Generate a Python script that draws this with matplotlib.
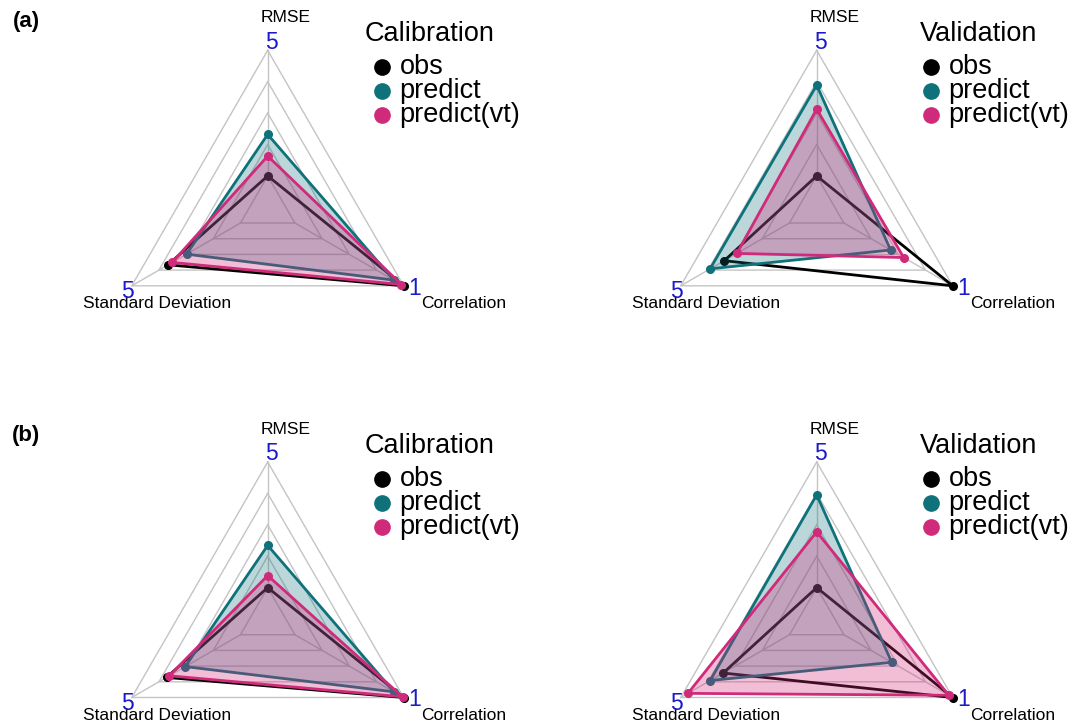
import numpy as np
import matplotlib
matplotlib.use("Agg")
import matplotlib.pyplot as plt

plt.rcParams["font.family"] = ["Liberation Sans", "DejaVu Sans"]

metrics = ["RMSE", "Standard Deviation", "Correlation"]
axis_max = [5, 5, 1]
axis_min = [0, 0, 0]
series_names = ["obs", "predict", "predict(vt)"]

# panel (a)
a_cal_obs = [0.0, 3.33, 1.00]
a_cal_pred = [1.65, 2.48, 0.91]
a_cal_vt = [0.79, 3.14, 0.98]
a_val_obs = [0.0, 3.00, 1.00]
a_val_pred = [3.61, 3.65, 0.43]
a_val_vt = [2.66, 2.42, 0.55]

# panel (b)
b_cal_obs = [0.0, 3.40, 1.00]
b_cal_pred = [1.68, 2.54, 0.91]
b_cal_vt = [0.48, 3.27, 0.99]
b_val_obs = [0.0, 3.05, 1.00]
b_val_pred = [3.69, 3.65, 0.44]
b_val_vt = [2.22, 4.67, 0.965]

line_cols = ["black", "#0f717a", "#d02a7a"]
fill_cols = [None, (0.06, 0.44, 0.48, 0.28), (0.82, 0.16, 0.48, 0.30)]
blue = "#1a1acc"
grid_col = "#c4c4c4"

W, H = 1075, 727
R = 157.0
angles = np.deg2rad([90, 210, 330])
seg = 4


def to_radius(vals):
    vals = np.asarray(vals, dtype=float)
    lo = np.asarray(axis_min, dtype=float)
    hi = np.asarray(axis_max, dtype=float)
    return (1 + seg * (vals - lo) / (hi - lo)) / (seg + 1)


def radar(fig, cx, cy, rect, title, data):
    x0, y0, x1, y1 = rect  # pixel box, y measured from top
    ax = fig.add_axes([x0 / W, 1 - y1 / H, (x1 - x0) / W, (y1 - y0) / H])
    ax.set_xlim((x0 - cx) / R, (x1 - cx) / R)
    ax.set_ylim((cy - y1) / R, (cy - y0) / R)
    ax.axis("off")

    # grid triangles and spokes
    for k in range(1, seg + 2):
        r = k / (seg + 1)
        gx = np.append(r * np.cos(angles), r * np.cos(angles[0]))
        gy = np.append(r * np.sin(angles), r * np.sin(angles[0]))
        ax.plot(gx, gy, color=grid_col, lw=1.0, zorder=1)
    for a in angles:
        ax.plot([np.cos(a) / (seg + 1), np.cos(a)], [np.sin(a) / (seg + 1), np.sin(a)],
                color=grid_col, lw=1.0, zorder=1)

    # series polygons
    for i, vals in enumerate(data):
        r = to_radius(vals)
        px = r * np.cos(angles)
        py = r * np.sin(angles)
        z = 2 + i
        if fill_cols[i] is not None:
            ax.fill(px, py, color=fill_cols[i], lw=0, zorder=z)
        ax.plot(np.append(px, px[0]), np.append(py, py[0]), color=line_cols[i],
                lw=2.0, zorder=z, solid_joinstyle="miter")
        ax.plot(px, py, "o", color=line_cols[i], ms=5.5, zorder=z)

    # axis labels (offsets in pixels)
    def put(dx, dy, s, **kw):
        ax.text(dx / R, -dy / R, s, **kw)

    put(18, -190, metrics[0], ha="center", va="center", fontsize=12.5)
    put(-111, 96, metrics[1], ha="center", va="center", fontsize=12.5)
    put(196, 96, metrics[2], ha="center", va="center", fontsize=12.5)
    put(4, -165, str(axis_max[0]), ha="center", va="center", fontsize=16.5, color=blue)
    put(-140, 84, str(axis_max[1]), ha="center", va="center", fontsize=16.5, color=blue)
    put(147, 81, str(axis_max[2]), ha="center", va="center", fontsize=16.5, color=blue)

    # legend
    put(162, -173, title, ha="center", va="center", fontsize=19.5)
    for i, name in enumerate(series_names):
        dy = -140 + 24 * i
        ax.plot(114 / R, -dy / R, "o", color=line_cols[i], ms=11, clip_on=False)
        put(132, dy, name, ha="left", va="center", fontsize=19.5)
    return ax


fig = plt.figure(figsize=(W / 100, H / 100), dpi=100)

radar(fig, 267.7, 207.3, (0, 0, 537, 363), "Calibration", [a_cal_obs, a_cal_pred, a_cal_vt])
radar(fig, 816.7, 207.3, (537, 0, 1075, 363), "Validation", [a_val_obs, a_val_pred, a_val_vt])
radar(fig, 267.7, 619.0, (0, 363, 537, 727), "Calibration", [b_cal_obs, b_cal_pred, b_cal_vt])
radar(fig, 816.7, 619.0, (537, 363, 1075, 727), "Validation", [b_val_obs, b_val_pred, b_val_vt])

fig.text(26 / W, 1 - 22 / H, "(a)", ha="center", va="center", fontsize=16, fontweight="bold")
fig.text(26 / W, 1 - 435 / H, "(b)", ha="center", va="center", fontsize=16, fontweight="bold")

fig.savefig("out.png", dpi=100)
